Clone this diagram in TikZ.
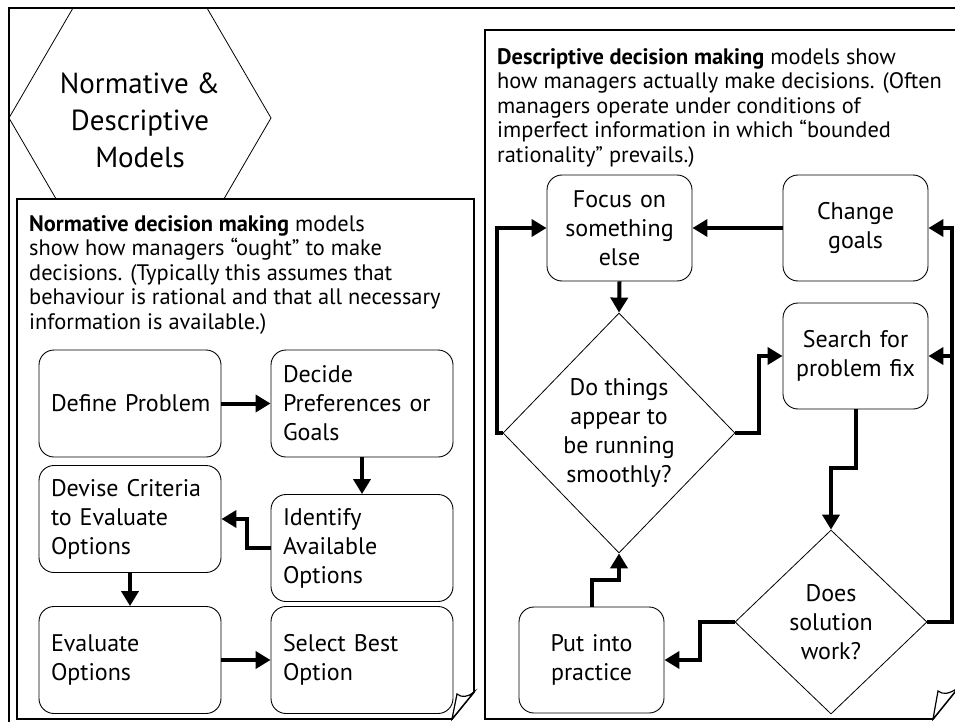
\documentclass[tikz,border=0pt]{standalone}
\usepackage{fontspec}
\setmainfont{PT Sans}
\usetikzlibrary{arrows.meta,shapes.geometric}

\begin{document}
\begin{tikzpicture}[x=1pt, y=-1pt,
		box/.style = {rectangle, rounded corners=15pt, draw=black, line width=0.9pt, fill=white, minimum width=182pt, minimum height=107pt, text width=158pt, inner xsep=12pt, align=left, font=\fontsize{24}{29}\selectfont},
		cbox/.style = {box, minimum width=145pt, minimum height=106pt, text width=125pt, inner xsep=10pt, align=center},
		ask/.style = {diamond, draw=black, line width=0.8pt, fill=white, inner sep=0pt, align=center, font=\fontsize{24}{29}\selectfont},
		panel/.style = {draw=black, line width=1.8pt, fill=white},
		intro/.style = {anchor=north west, inner sep=0pt, align=left, font=\fontsize{22.4}{24.5}\selectfont},
		r/.style = {-{Triangle[length=15pt,width=17pt]}, line width=4pt}
		]
		\useasboundingbox (0,0) rectangle (955,722);
		
		%Frame and title
		\draw[line width=2.4pt] (9,740) -- (9,8) -- (970,8);
		\draw[line width=0.8pt] (73,8) -- (207,8) -- (271,118) -- (207,228) -- (73,228) -- (9,118) -- cycle;
		\node[align=center, font=\fontsize{29}{37}\selectfont] (title) at (140,120) {Normative \&\\Descriptive\\Models};
		
		%Panels
		\draw[panel] (17,199) -- (474,199) -- (474,692) -- (452,719) -- (17,719) -- cycle;
		\draw[line width=1.2pt, fill=white] (452,719) -- (457,694) .. controls (462,698) and (468,697) .. (474,692) -- cycle;
		\draw[panel] (485,30) -- (958,30) -- (958,688) -- (933,719) -- (485,719) -- cycle;
		\draw[line width=1.2pt, fill=white] (933,719) -- (938,691) .. controls (943,695) and (949,694) .. (958,688) -- cycle;
		
		\node[intro] (normtext) at (29,215) {\textbf{Normative decision making} models\\show how managers “ought” to make\\decisions. (Typically this assumes that\\behaviour is rational and that all necessary\\information is available.)};
		\node[intro] (desctext) at (497,48) {\textbf{Descriptive decision making} models show\\how managers actually make decisions. (Often\\managers operate under conditions of\\imperfect information in which “bounded\\rationality” prevails.)};
		
		%Nodes
		\node[box]	(define)	at	(130,403.5)	{\mbox{Define Problem}};
		\node[box]	(decide)	at	(362,403.5)	{Decide\\Preferences or\\Goals};
		\node[box]	(devise)	at	(130,519)	{Devise Criteria\\to Evaluate\\Options};
		\node[box]	(identify)	at	(362,548)	{Identify\\Available\\Options};
		\node[box]	(evaluate)	at	(130,660)	{Evaluate\\Options};
		\node[box]	(select)	at	(362,660)	{Select Best\\Option};
		
		\node[cbox]	(focus)	at	(619.5,228)	{Focus on\\something\\else};
		\node[cbox]	(change)	at	(855.5,228)	{Change\\goals};
		\node[cbox]	(search)	at	(855.5,356)	{Search for\\problem fix};
		\node[cbox, minimum width=143pt]	(practice)	at	(591.5,660)	{Put into\\practice};
		\node[ask, minimum width=232pt, minimum height=240pt]	(smooth)	at	(619,433)	{Do things\\appear to\\be running\\smoothly?};
		\node[ask, minimum width=192pt, minimum height=184pt]	(works)	at	(831,622)	{Does\\solution\\work?};
		
		%Lines
		\draw[r]	(define.east)	--	(decide.west);
		\draw[r]	(decide.south)	--	(identify.north);
		\draw[r]	(identify.west)	--	++(-24,0)	|-	(devise.east);
		\draw[r]	(devise.south)	--	(evaluate.north);
		\draw[r]	(evaluate.east)	--	(select.west);
		
		\draw[r]	(change.west)	--	(focus.east);
		\draw[r]	(focus.south)	--	(smooth.north);
		\draw[r]	(smooth.west)	--	++(-6,0)	|-	(focus.west);
		\draw[r]	(smooth.east)	--	++(24,0)	|-	(search.west);
		\draw[r]	(search.south)	--	++(0,59)	-|	(works.north);
		\draw[r]	(works.east)	--	++(25,0)	|-	(change.east);
		\draw[r]	(works.east)	--	++(25,0)	|-	(search.east);
		\draw[r]	(works.west)	--	++(-35,0)	|-	(practice.east);
		\draw[r]	(practice.north)	--	++(0,-27)	-|	(smooth.south);
	\end{tikzpicture}
\end{document}
